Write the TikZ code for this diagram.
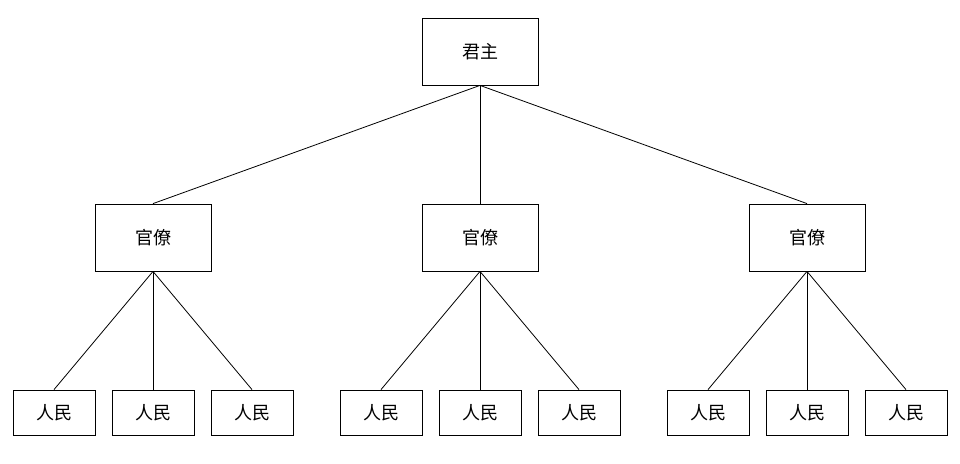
\documentclass[tikz,border=0pt]{standalone}
\usepackage{fontspec}
\newfontfamily\cjk{Noto Sans CJK SC}
\usetikzlibrary{positioning}

\begin{document}
\begin{tikzpicture}[x=1pt, y=-1pt, line width=0.8pt,
  font=\cjk\fontsize{18}{21}\selectfont,
  box/.style={draw, minimum width=116pt, minimum height=67pt, inner sep=0pt},
  leaf/.style={draw, minimum width=82pt, minimum height=45pt, inner sep=0pt}]

\useasboundingbox (0, 0) rectangle (960, 463);

\node[box] (ruler) at (480, 51.5) {君主};

\foreach \i/\x in {1/153, 2/480, 3/807} {
  \node[box] (off\i) at (\x, 237.5) {官僚};
  \draw (ruler.south) -- (off\i.north);
  \foreach \j/\d in {1/-99, 2/0, 3/99} {
    \node[leaf] (peo\i\j) at (\x+\d, 412.5) {人民};
    \draw (off\i.south) -- (peo\i\j.north);
  }
}

\end{tikzpicture}
\end{document}
